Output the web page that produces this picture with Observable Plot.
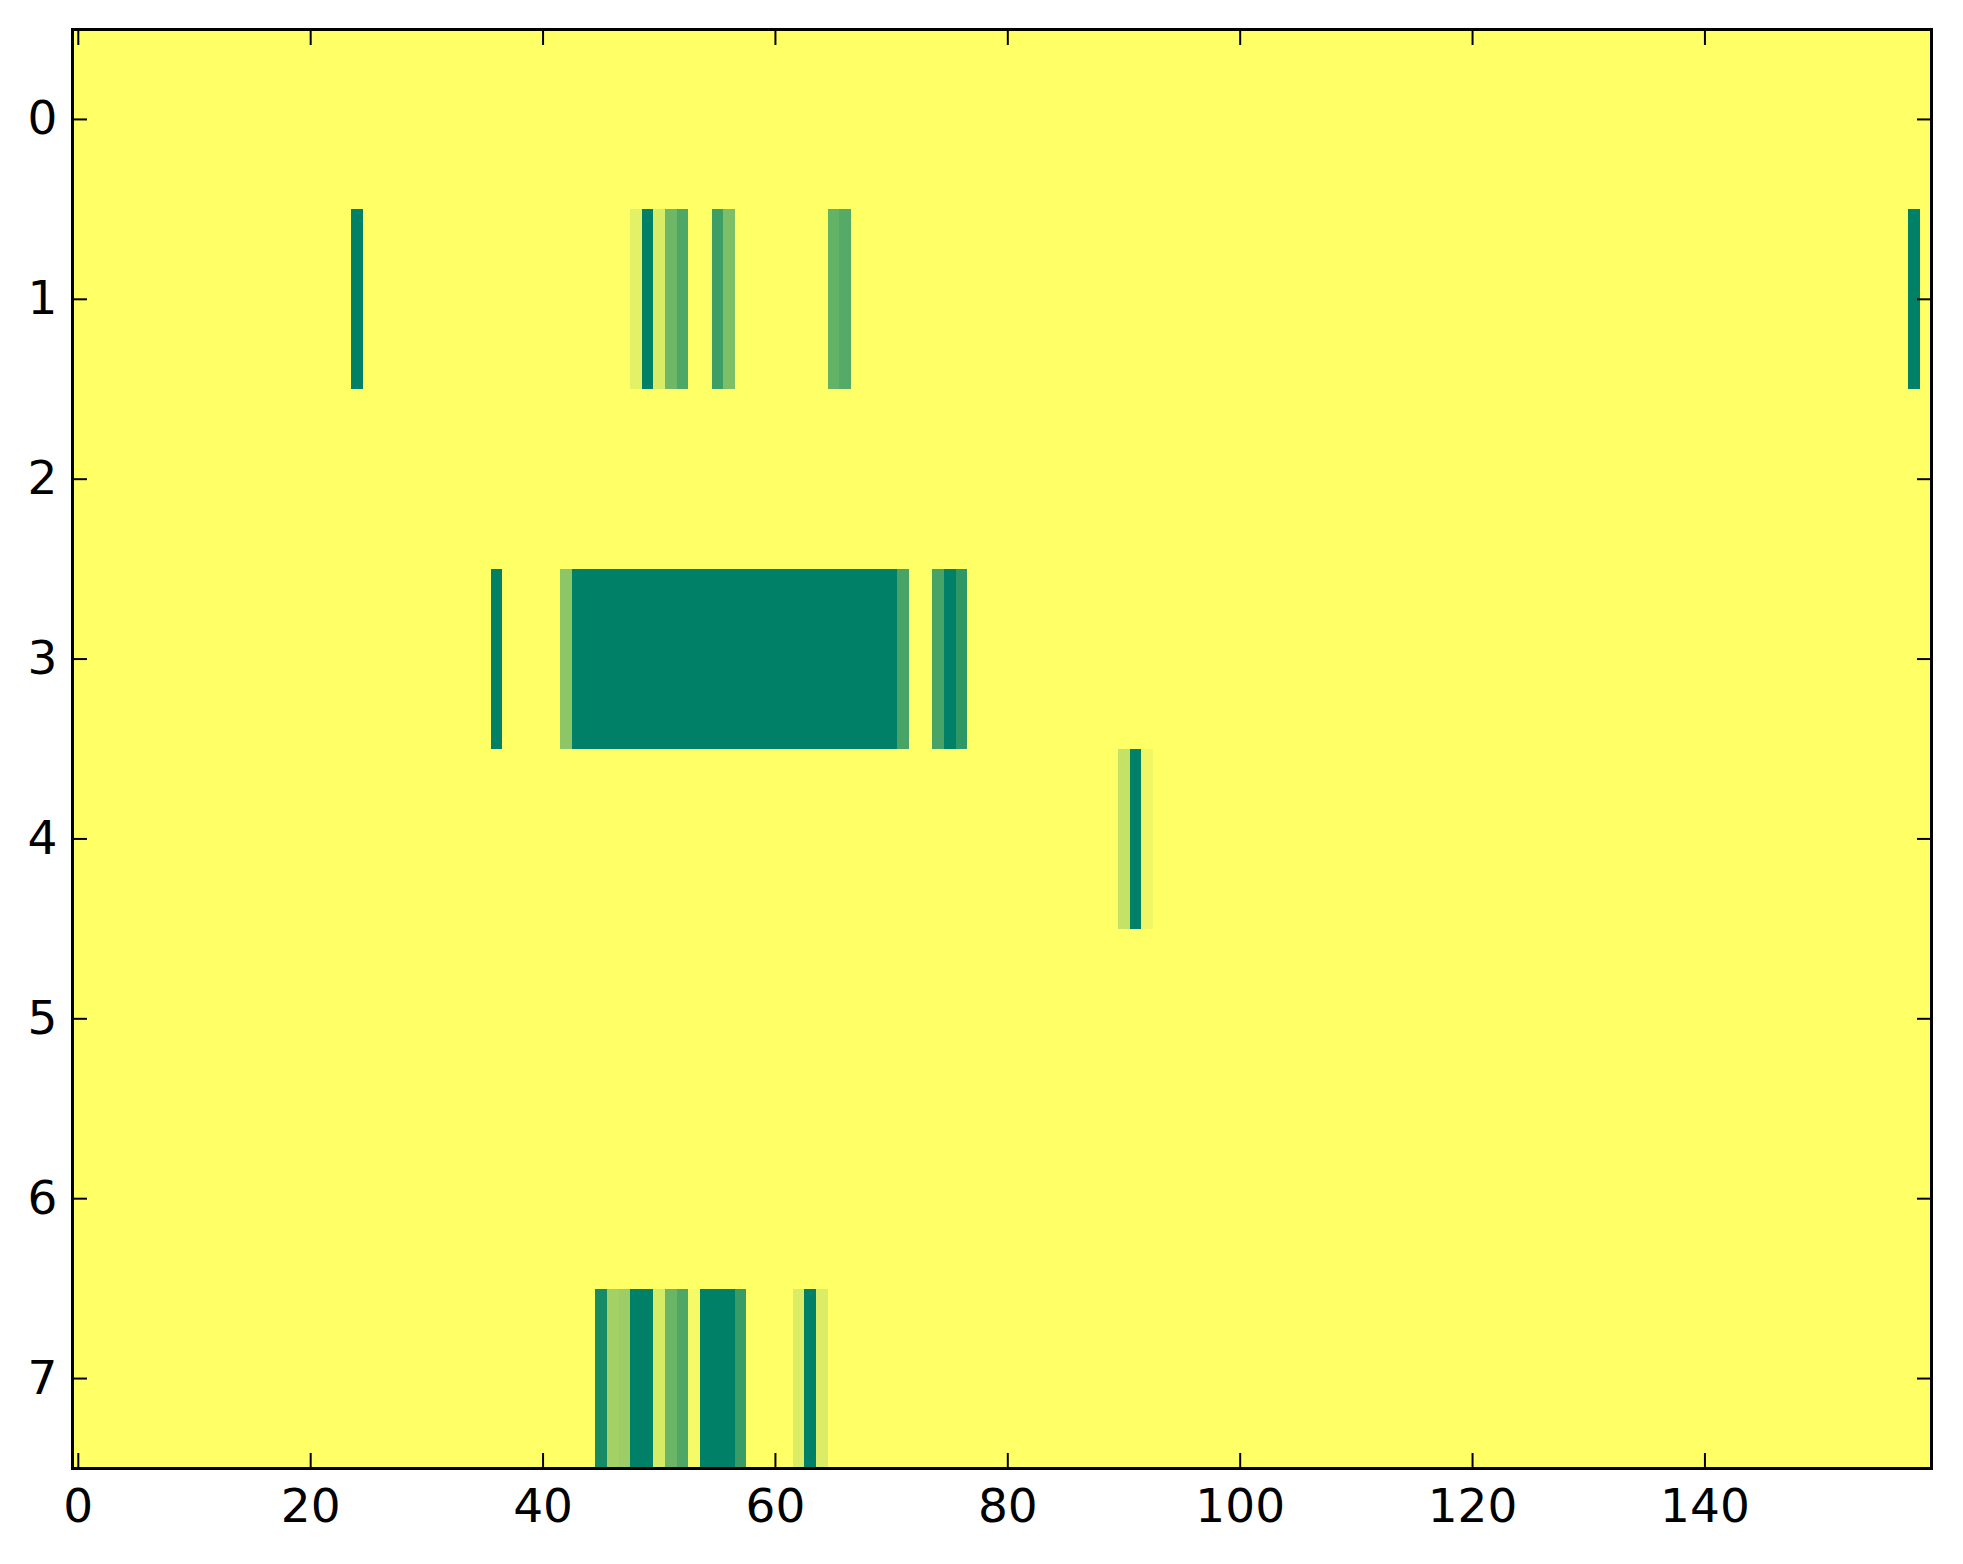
<!DOCTYPE html>
<html>
<head>
<meta charset="utf-8">
<script src="https://cdn.jsdelivr.net/npm/d3@7"></script>
<script src="https://cdn.jsdelivr.net/npm/@observablehq/plot@0.6"></script>
<style>
  html, body { margin: 0; padding: 0; background: #ffffff; }
  #chart { width: 1963px; height: 1564px; }
  svg { font-family: "DejaVu Sans", sans-serif; }
</style>
</head>
<body>
<div id="chart"></div>
<script>
// Grid size (rows x columns of the image)
const nRows = 8;
const nCols = 160;

// Tick labels
const xTicks = [0, 20, 40, 60, 80, 100, 120, 140];
const yTicks = [0, 1, 2, 3, 4, 5, 6, 7];

// Non-zero runs of cells: row, first column, last column, value (0..1)
const runRow   = [1, 1, 1, 1, 1, 1, 1, 1, 1, 1, 1,
                  3, 3, 3, 3, 3, 3, 3,
                  4, 4, 4,
                  7, 7, 7, 7, 7, 7, 7, 7, 7, 7, 7, 7, 7];
const runStart = [24, 48, 49, 50, 51, 52, 55, 56, 65, 66, 158,
                  36, 42, 43, 71, 74, 75, 76,
                  90, 91, 92,
                  45, 46, 47, 48, 50, 51, 52, 53, 54, 57, 62, 63, 64];
const runEnd   = [24, 48, 49, 50, 51, 52, 55, 56, 65, 66, 158,
                  36, 42, 70, 71, 74, 75, 76,
                  90, 91, 92,
                  45, 46, 47, 49, 50, 51, 52, 53, 56, 57, 62, 63, 64];
const runValue = [1, 0.11, 1, 0.15, 0.57, 0.69, 0.76, 0.51, 0.61, 0.67, 1,
                  1, 0.45, 1, 0.72, 0.72, 1, 0.82,
                  0.23, 1, 0.06,
                  0.91, 0.36, 0.39, 1, 0.16, 0.58, 0.69, 0.04, 1, 0.78, 0.14, 1, 0.14];

// Build dense row-major grid
const grid = new Array(nRows * nCols).fill(0);
runRow.forEach((r, i) => {
  for (let c = runStart[i]; c <= runEnd[i]; c++) grid[r * nCols + c] = runValue[i];
});

const W = 1963, H = 1564;
const mL = 72, mR = 32, mT = 29, mB = 96;
const fs = 47;

const chart = Plot.plot({
  width: W,
  height: H,
  marginLeft: mL,
  marginRight: mR,
  marginTop: mT,
  marginBottom: mB,
  style: {fontFamily: "DejaVu Sans, sans-serif", fontSize: fs + "px", background: "white", color: "black"},
  x: {type: "linear", domain: [-0.5, nCols - 0.5]},
  y: {type: "linear", domain: [-0.5, nRows - 0.5], reverse: true},
  color: {type: "linear", domain: [0, 1], range: ["#ffff66", "#008066"], interpolate: "rgb"},
  marks: [
    Plot.raster(grid, {
      width: nCols, height: nRows,
      x1: -0.5, x2: nCols - 0.5, y1: -0.5, y2: nRows - 0.5,
      fill: d => d,
      imageRendering: "pixelated"
    }),
    // bottom labels
    Plot.axisX({anchor: "bottom", ticks: xTicks, tickSize: 0, tickPadding: 20, fontSize: fs, tickFormat: d => String(d)}),
    // inward ticks on all sides
    Plot.axisX({anchor: "bottom", ticks: xTicks, tickSize: -15, text: null, strokeWidth: 2}),
    Plot.axisX({anchor: "top", ticks: xTicks, tickSize: -15, text: null, label: null, strokeWidth: 2}),
    Plot.axisY({anchor: "left", ticks: yTicks, tickSize: 0, tickPadding: 15, fontSize: fs, tickFormat: d => String(d), label: null}),
    Plot.axisY({anchor: "left", ticks: yTicks, tickSize: -15, text: null, label: null, strokeWidth: 2}),
    Plot.axisY({anchor: "right", ticks: yTicks, tickSize: -15, text: null, label: null, strokeWidth: 2}),
    Plot.frame({stroke: "black", strokeWidth: 3})
  ]
});

document.getElementById("chart").appendChild(chart);
</script>
</body>
</html>
